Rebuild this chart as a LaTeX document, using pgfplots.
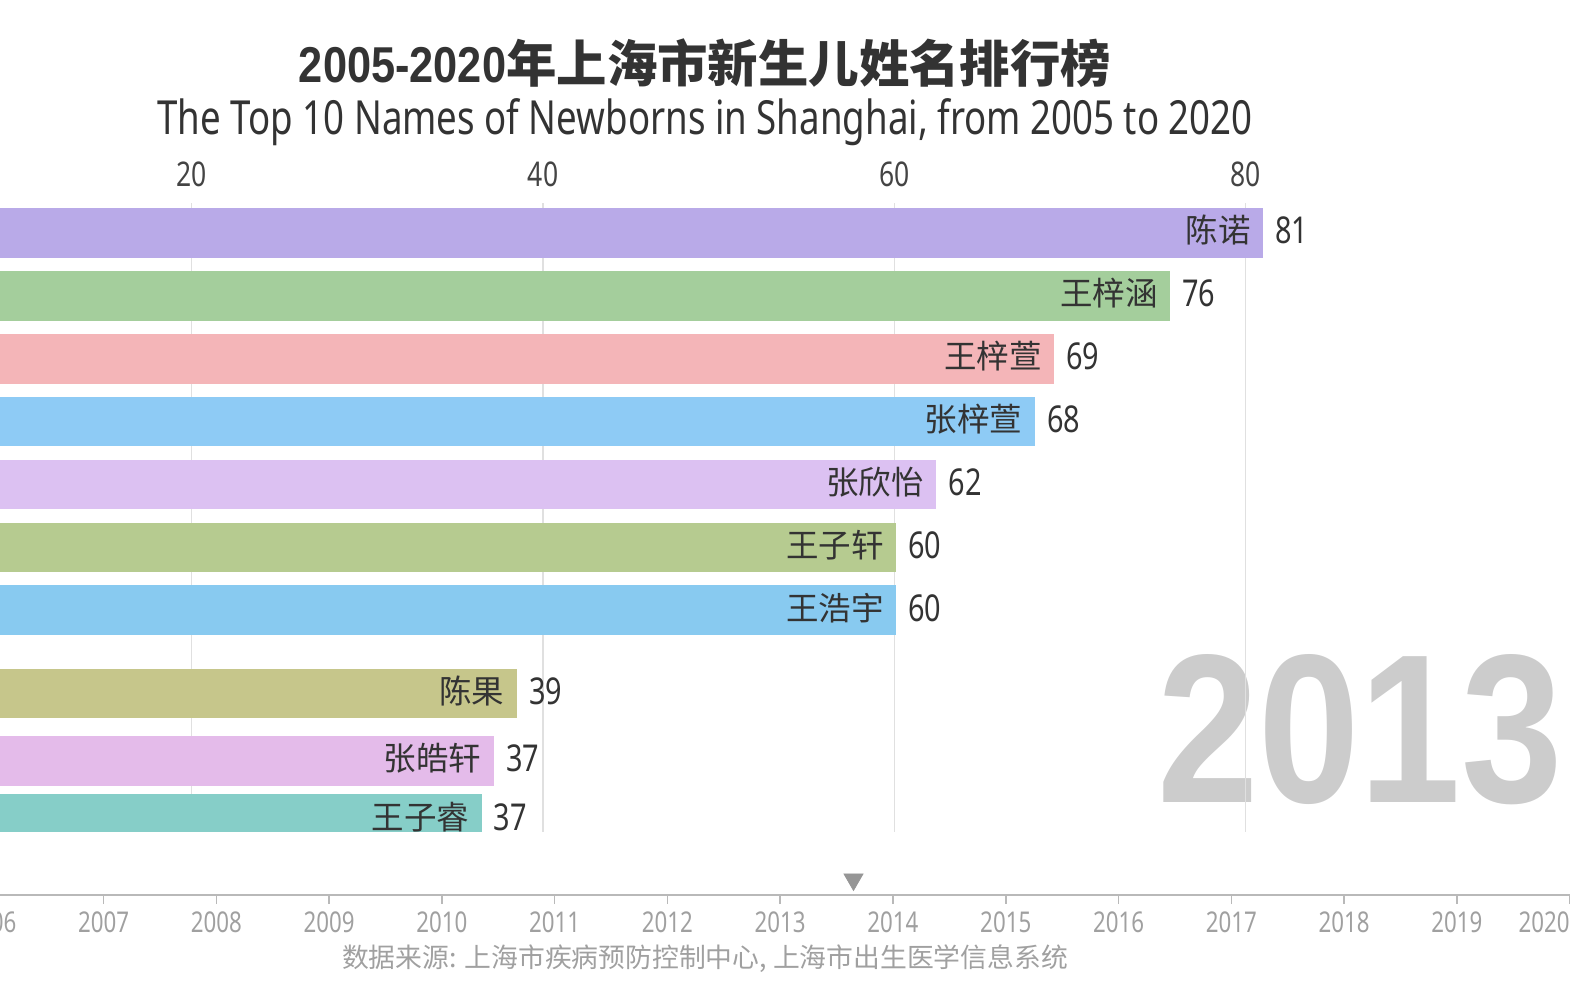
\documentclass[border=0pt]{standalone}
\usepackage{pgfplots}
\pgfplotsset{compat=1.18}
\usepackage{fontspec}
\setmainfont{Noto Sans}
\newfontfamily\cond[FakeStretch=0.78]{Noto Sans}
\newfontfamily\yearfont[FakeStretch=0.86]{Liberation Sans}
\newfontfamily\titlenum[FakeStretch=0.86]{Liberation Sans}
\newfontfamily\cjk{Noto Sans CJK SC}
\definecolor{c1}{RGB}{185,170,232}
\definecolor{c2}{RGB}{164,206,156}
\definecolor{c3}{RGB}{244,181,184}
\definecolor{c4}{RGB}{142,203,245}
\definecolor{c5}{RGB}{220,193,242}
\definecolor{c6}{RGB}{182,203,144}
\definecolor{c7}{RGB}{136,202,240}
\definecolor{c8}{RGB}{198,198,139}
\definecolor{c9}{RGB}{228,187,234}
\definecolor{c10}{RGB}{134,206,200}
\definecolor{titlec}{RGB}{51,51,51}
\definecolor{tickc}{RGB}{68,68,68}
\definecolor{gridc}{RGB}{224,224,224}
\definecolor{bigyear}{RGB}{204,204,204}
\definecolor{linec}{RGB}{185,185,185}
\definecolor{greyc}{RGB}{160,160,160}
\definecolor{markc}{RGB}{150,150,150}
\begin{document}
\begin{tikzpicture}[x=0.5bp,y=0.5bp]
\path[use as bounding box] (0,0) rectangle (1591,994);
% big year
\node[anchor=base east, inner sep=0pt, text=bigyear, font=\yearfont\bfseries\fontsize{106bp}{106bp}\selectfont] at (1563,192) {2013};
% titles
\node[anchor=center, inner sep=0pt, text=titlec] at (705,931) {\fontsize{25.2bp}{30bp}\selectfont{\titlenum\bfseries 2005-2020}{\cjk\bfseries 年上海市新生儿姓名排行榜}};
\node[anchor=base, inner sep=0pt, text=titlec] at (705,859) {\cond\fontsize{23.5bp}{28bp}\selectfont The Top 10 Names of Newborns in Shanghai, from 2005 to 2020};
% bars
\begin{axis}[
  at={(0bp,395.5bp)}, anchor=north west,
  width=795.5bp, height=314.5bp, scale only axis,
  xmin=9.08, xmax=99.68, ymin=0.525, ymax=10.523, y dir=reverse,
  xbar, bar width=0.79, bar shift=0pt,
  axis line style={draw=none},
  ytick=\empty,
  xtick={20,40,60,80}, xticklabels={20,40,60,80},
  xticklabel pos=upper, major tick length=0pt,
  xmajorgrids, grid style={color=gridc, line width=0.6bp},
  xticklabel style={font=\cond\fontsize{17bp}{17bp}\selectfont, text=tickc, anchor=base, inner sep=0pt, yshift=8bp},
  namelbl/.style={point meta=explicit symbolic, nodes near coords,
    every node near coord/.append style={anchor=east, inner sep=0pt, xshift=-6bp, yshift=1.2bp, text=titlec, font=\cjk\fontsize{16.25bp}{16bp}\selectfont}},
]
\addplot[fill=c1, draw=none, namelbl] coordinates {(81.0,1) [陈诺]};
\addplot[fill=c2, draw=none, namelbl] coordinates {(75.7,2) [王梓涵]};
\addplot[fill=c3, draw=none, namelbl] coordinates {(69.1,3) [王梓萱]};
\addplot[fill=c4, draw=none, namelbl] coordinates {(68.0,4) [张梓萱]};
\addplot[fill=c5, draw=none, namelbl] coordinates {(62.4,5) [张欣怡]};
\addplot[fill=c6, draw=none, namelbl] coordinates {(60.1,6) [王子轩]};
\addplot[fill=c7, draw=none, namelbl] coordinates {(60.1,7) [王浩宇]};
\addplot[fill=c8, draw=none, namelbl] coordinates {(38.5,8.32) [陈果]};
\addplot[fill=c9, draw=none, namelbl] coordinates {(37.2,9.39) [张皓轩]};
\addplot[fill=c10, draw=none, namelbl] coordinates {(36.5,10.32) [王子睿]};
\addplot[draw=none, fill=none, point meta=explicit symbolic, nodes near coords,
  every node near coord/.append style={anchor=west, inner sep=0pt, xshift=6bp, yshift=1.2bp, text=titlec, font=\cond\fontsize{18.5bp}{18bp}\selectfont}]
  coordinates {(81.0,1) [81] (75.7,2) [76] (69.1,3) [69] (68.0,4) [68] (62.4,5) [62] (60.1,6) [60] (60.1,7) [60] (38.5,8.32) [39] (37.2,9.39) [37] (36.5,10.32) [37]};
\end{axis}
% timeline
\begin{axis}[
  at={(-15.9bp,49.5bp)}, anchor=south west,
  width=800.7bp, height=15bp, scale only axis,
  xmin=2005.8, xmax=2020, ymin=0, ymax=1,
  axis x line*=bottom, axis y line=none,
  x axis line style={-, color=linec, line width=1.1bp},
  xtick={2006,2007,2008,2009,2010,2011,2012,2013,2014,2015,2016,2017,2018,2019,2020},
  xticklabels={2006,2007,2008,2009,2010,2011,2012,2013,2014,2015,2016,2017,2018,2019,\makebox[0pt][r]{2020}},
  tick align=outside, major tick length=4.5bp,
  tick style={color=linec, line width=0.8bp},
  xticklabel style={font=\cond\fontsize{14.3bp}{14bp}\selectfont, text=greyc, anchor=base, inner sep=0pt, yshift=-14bp},
  clip=false,
]
\addplot[color=markc, only marks, mark=triangle*, mark size=5.5bp, mark options={rotate=180, fill=markc, draw=markc}] coordinates {(2013.65,0.52)};
\end{axis}
% source
\node[anchor=center, inner sep=0pt, text=greyc, font=\cjk\fontsize{13.4bp}{14bp}\selectfont] at (705,35) {数据来源: 上海市疾病预防控制中心, 上海市出生医学信息系统};
\end{tikzpicture}
\end{document}
